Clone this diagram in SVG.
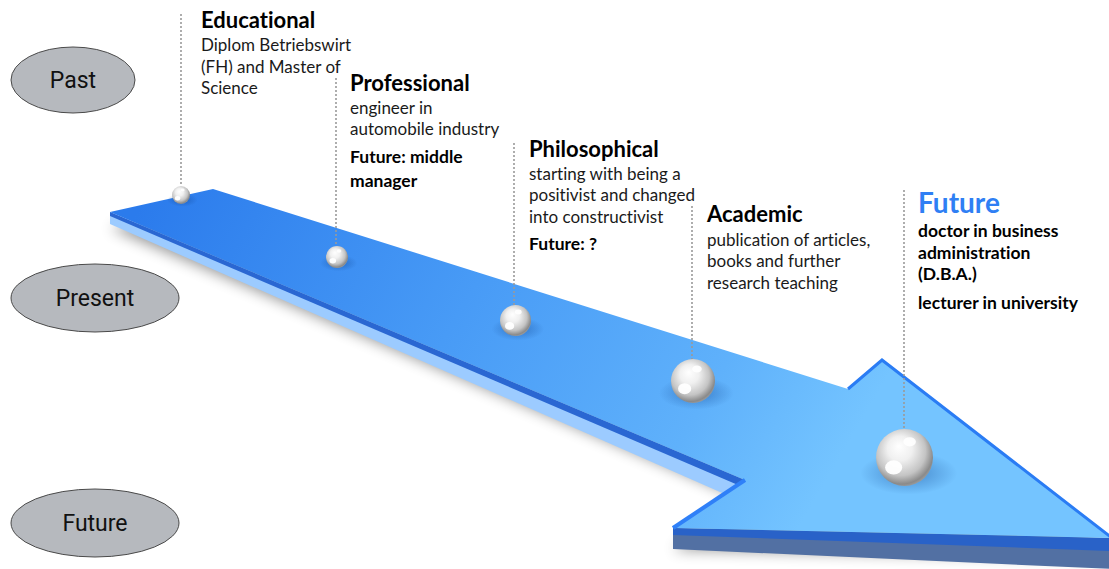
<svg xmlns="http://www.w3.org/2000/svg" width="1109" height="569" viewBox="0 0 1109 569">
<style>
text{font-variant-ligatures:none}
.h{font-family:Lato,"Liberation Sans",sans-serif;font-weight:bold;font-size:22px;fill:#000}
.b{font-family:Lato,"Liberation Sans",sans-serif;font-size:17px;fill:#1a1a1a}
.bb{font-family:Lato,"Liberation Sans",sans-serif;font-weight:bold;font-size:17.5px;fill:#000}
.era{fill:#b6b9be;stroke:#4a4a4a;stroke-width:1}
.et{font-family:Roboto,"Liberation Sans",sans-serif;font-size:23px;fill:#111;text-anchor:middle}
.dot{stroke:#9a9a9a;stroke-width:1.6;stroke-dasharray:2 2;fill:none}
</style>
<defs>
<linearGradient id="top" gradientUnits="userSpaceOnUse" x1="150" y1="190" x2="780" y2="560">
<stop offset="0" stop-color="#2b7bec"/>
<stop offset="0.45" stop-color="#489bf6"/>
<stop offset="0.8" stop-color="#5fb1fb"/>
<stop offset="1" stop-color="#74c4ff"/>
</linearGradient>
<radialGradient id="pearl" cx="0.45" cy="0.42" r="0.62" fx="0.4" fy="0.3">
<stop offset="0" stop-color="#ffffff"/>
<stop offset="0.35" stop-color="#f0f0f0"/>
<stop offset="0.7" stop-color="#c4c4c4"/>
<stop offset="0.9" stop-color="#8a8a8a"/>
<stop offset="1" stop-color="#a4a4a4"/>
</radialGradient>
<radialGradient id="pshadow">
<stop offset="0" stop-color="#0d3f8a" stop-opacity="0.45"/>
<stop offset="1" stop-color="#0d3f8a" stop-opacity="0"/>
</radialGradient>
<filter id="blur" x="-20%" y="-20%" width="140%" height="140%"><feGaussianBlur stdDeviation="7"/></filter>
<symbol id="pearlSym" viewBox="-1 -1 2 2" overflow="visible">
<ellipse cx="0.15" cy="0.55" rx="1.7" ry="0.75" fill="url(#pshadow)"/>
<circle r="1" fill="url(#pearl)"/>
<ellipse cx="-0.38" cy="0.35" rx="0.3" ry="0.25" fill="#fff" opacity="0.95"/>
<ellipse cx="0.18" cy="-0.55" rx="0.22" ry="0.16" fill="#fff" opacity="0.9"/>
</symbol>
</defs>
<rect width="1109" height="569" fill="#fff"/>

<g id="arrow">
<polygon points="110,228 213,205 848,407 882,378 1112,558 673,550 745,500" fill="#000" opacity="0.4" filter="url(#blur)"/>
<polygon points="110,212 745,480 745,503 110,224" fill="#9ccbff"/>
<polygon points="110,212 745,480 745,488 110,216" fill="#2a67d2"/>
<polygon points="673,528 1112,538 1112,569 673,549" fill="#5270a3"/>
<polygon points="673,528 1112,538 1112,551 673,535" fill="#2962c8"/>
<polygon points="110,212 213,189 848,389 882,360 1112,538 673,528 745,480" fill="url(#top)"/>
<polyline points="848,389 882,360 1112,538" fill="none" stroke="#2a7cf4" stroke-width="3"/>
<line x1="745" y1="480" x2="673" y2="528" stroke="#2f80f8" stroke-width="4"/>
</g>

<g id="connectors">
<line class="dot" x1="181" y1="14" x2="181" y2="186"/>
<line class="dot" x1="336" y1="78" x2="336" y2="246"/>
<line class="dot" x1="514" y1="143" x2="514" y2="305"/>
<line class="dot" x1="692" y1="206" x2="692" y2="360"/>
<line class="dot" x1="904" y1="190" x2="904" y2="430"/>
</g>

<g id="era-past">
<ellipse class="era" cx="73" cy="80" rx="62" ry="33"/>
<text class="et" x="73" y="88">Past</text>
</g>
<g id="era-present">
<ellipse class="era" cx="95" cy="298" rx="84" ry="34"/>
<text class="et" x="95" y="306">Present</text>
</g>
<g id="era-future">
<ellipse class="era" cx="95" cy="523" rx="84" ry="34"/>
<text class="et" x="95" y="531">Future</text>
</g>

<g id="node-educational">
<use href="#pearlSym" x="172" y="186" width="18" height="18"/>
<text class="h" x="201" y="28">Educational</text>
<text class="b" x="201" y="51">Diplom Betriebswirt</text>
<text class="b" x="201" y="73">(FH) and Master of</text>
<text class="b" x="201" y="94">Science</text>
</g>

<g id="node-professional">
<use href="#pearlSym" x="326" y="246" width="22" height="22"/>
<text class="h" x="350" y="91">Professional</text>
<text class="b" x="350" y="114">engineer in</text>
<text class="b" x="350" y="135">automobile industry</text>
<text class="bb" x="350" y="163">Future: middle</text>
<text class="bb" x="350" y="187">manager</text>
</g>

<g id="node-philosophical">
<use href="#pearlSym" x="500" y="305" width="31" height="31"/>
<text class="h" x="529" y="157">Philosophical</text>
<text class="b" x="529" y="180">starting with being a</text>
<text class="b" x="529" y="201">positivist and changed</text>
<text class="b" x="529" y="223">into constructivist</text>
<text class="bb" x="529" y="250">Future: ?</text>
</g>

<g id="node-academic">
<use href="#pearlSym" x="671" y="359" width="44" height="44"/>
<text class="h" x="707" y="222">Academic</text>
<text class="b" x="707" y="246">publication of articles,</text>
<text class="b" x="707" y="267">books and further</text>
<text class="b" x="707" y="289">research teaching</text>
</g>

<g id="node-future">
<use href="#pearlSym" x="876" y="429" width="57" height="57"/>
<text x="918" y="213" style="font-family:Lato,'Liberation Sans',sans-serif;font-weight:bold;font-size:28px;fill:#2f7ff4">Future</text>
<text class="bb" x="918" y="237">doctor in business</text>
<text class="bb" x="918" y="259">administration</text>
<text class="bb" x="918" y="280">(D.B.A.)</text>
<text class="bb" x="918" y="309">lecturer in university</text>
</g>
</svg>
